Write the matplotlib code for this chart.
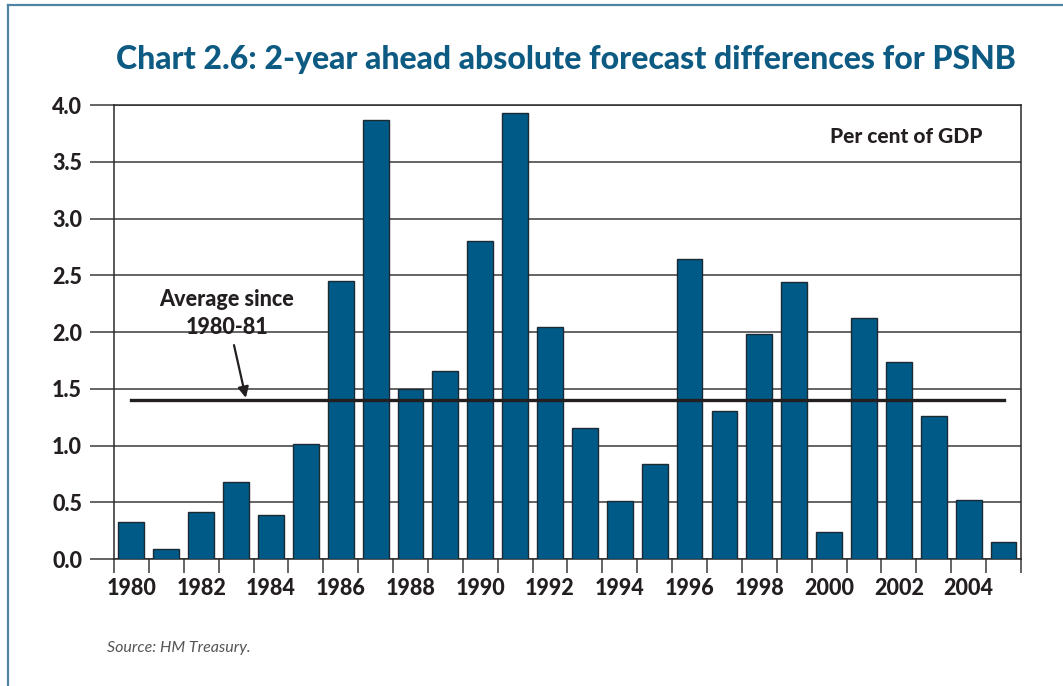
import matplotlib.pyplot as plt
import matplotlib.ticker as mticker
import numpy as np

# 2-year ahead absolute forecast differences, per cent of GDP
years = list(range(1980, 2006))
psnb_diff = [0.33, 0.09, 0.41, 0.68, 0.39, 1.01, 2.45, 3.87, 1.50, 1.66,
             2.80, 3.93, 2.04, 1.15, 0.51, 0.84, 2.64, 1.30, 1.98, 2.44,
             0.24, 2.12, 1.74, 1.26, 0.52, 0.15]
average = 1.40
year_labels = [str(y) for y in range(1980, 2006, 2)]

BLUE = "#005a87"
TITLE_BLUE = "#0d5a82"
INK = "#231f20"

plt.rcParams['font.family'] = ['Lato', 'DejaVu Sans']

fig = plt.figure(figsize=(10.63, 6.86), dpi=100)
ax = fig.add_axes([0.1072, 0.1851, 0.8533, 0.6618])

# outer frame lines (top and left)
fig.add_artist(plt.Line2D([0.0075, 1.0], [0.9927, 0.9927], color="#4f83a6", lw=1.6))
fig.add_artist(plt.Line2D([0.0075, 0.0075], [0.0, 0.9927], color="#4f83a6", lw=1.6))

ax.bar(years, psnb_diff, width=0.74, color=BLUE, edgecolor="#1c2a33",
       linewidth=1.0, zorder=3)

ax.plot([years[0], years[-1]], [average, average], color=INK, lw=2.4, zorder=4)

ax.set_xlim(1979.5, 2005.5)
ax.set_ylim(0, 4.0)

ax.yaxis.set_major_locator(mticker.MultipleLocator(0.5))
ax.yaxis.set_major_formatter(mticker.FormatStrFormatter('%.1f'))
ax.grid(axis='y', color="#3a3a3a", lw=1.1, zorder=1)
ax.tick_params(axis='y', length=17, width=1.1, color="#3a3a3a", pad=6,
               labelsize=15.5, labelcolor=INK)

ax.set_xticks(range(1980, 2006, 2))
ax.set_xticklabels(year_labels)
ax.xaxis.set_minor_locator(mticker.FixedLocator(np.arange(1979.5, 2006, 1)))
ax.tick_params(axis='x', which='major', length=0, pad=14, labelsize=15.5,
               labelcolor=INK)
ax.tick_params(axis='x', which='minor', length=10, width=1.1, color="#3a3a3a")
for lab in ax.get_yticklabels() + ax.get_xticklabels():
    lab.set_fontweight('black')

for side in ['left', 'right', 'top', 'bottom']:
    ax.spines[side].set_color("#2a2a2a")
    ax.spines[side].set_linewidth(1.1)

fig.text(0.532, 0.913, "Chart 2.6: 2-year ahead absolute forecast differences for PSNB",
         ha='center', va='center', fontsize=23, fontweight='black', color=TITLE_BLUE)

ax.text(0.957, 0.93, "Per cent of GDP", transform=ax.transAxes, ha='right',
        va='center', fontsize=15, fontweight='black', color=INK)

ax.annotate("Average since\n1980-81", xy=(1983.28, average + 0.02),
            xytext=(1982.74, 2.16), ha='center', va='center', fontsize=15.5,
            fontweight='black', color=INK, linespacing=1.4,
            arrowprops=dict(arrowstyle='-|>', color=INK, lw=1.6,
                            mutation_scale=16, shrinkA=3, shrinkB=0),
            zorder=5)

fig.text(0.101, 0.055, "Source: HM Treasury.", ha='left', va='center',
         fontsize=11.5, style='italic', color="#555555")

fig.savefig("out.png", dpi=100)
